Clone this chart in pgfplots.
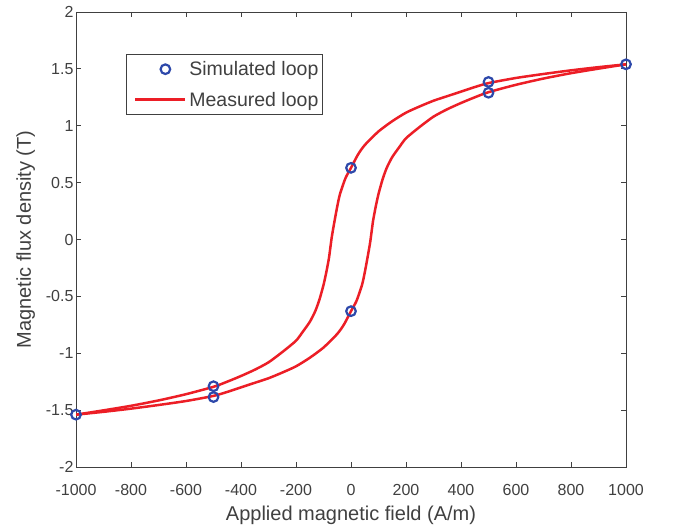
\documentclass[border=0pt]{standalone}
\usepackage{pgfplots}
\pgfplotsset{compat=1.18}
\usepackage{fontspec}
\setmainfont{Liberation Sans}
\definecolor{mred}{RGB}{236,30,38}
\definecolor{mblue}{RGB}{45,72,170}
\definecolor{axgray}{RGB}{64,64,64}
\begin{document}
\begin{tikzpicture}
\useasboundingbox (-76pt,-59pt) rectangle (601pt,467pt);
\begin{axis}[
  scale only axis,
  width=550pt, height=455pt,
  xmin=-1000, xmax=1000, ymin=-2, ymax=2,
  xtick={-1000,-800,-600,-400,-200,0,200,400,600,800,1000},
  xticklabels={-1000,-800,-600,-400,-200,0,200,400,600,800,1000},
  ytick={-2,-1.5,-1,-0.5,0,0.5,1,1.5,2},
  yticklabels={-2,-1.5,-1,-0.5,0,0.5,1,1.5,2},
  tick align=inside,
  major tick length=5pt,
  axis line style={axgray, line width=0.8pt},
  every tick/.style={axgray, line width=0.8pt},
  tick label style={text=axgray, font=\fontsize{16}{19}\selectfont},
  xticklabel style={yshift=-14pt},
  yticklabel style={xshift=1pt},
  label style={text=axgray, font=\fontsize{20}{24}\selectfont},
  xlabel={Applied magnetic field (A/m)},
  ylabel={Magnetic flux density (T)},
  xlabel style={yshift=-3pt},
  ylabel style={yshift=4pt},
  legend cell align=left,
  legend style={at={(rel axis cs:0.0909,0.9077)}, anchor=north west,
    draw=axgray, line width=0.8pt, font=\fontsize{19.5}{23}\selectfont,
    text=axgray, inner xsep=2pt, inner ysep=5pt, row sep=11pt},
]
\addplot[only marks, mark=o, mark size=4.8pt, mblue, line width=2.2pt,
  legend image code/.code={\draw[mblue, line width=2.2pt] (37pt,0pt) circle (4.8pt);\path[draw=none,fill=none] (0pt,0pt) -- (59pt,0pt);}]
  coordinates {(1000,1.54) (500,1.385) (500,1.29) (0,0.63) (0,-0.63) (-500,-1.29) (-500,-1.385) (-1000,-1.54)};
\addlegendentry{Simulated loop}
\addplot[mred, line width=2.5pt, smooth, tension=0.4,
  legend image code/.code={\draw[mred, line width=3pt] (7pt,0pt) -- (57pt,0pt);\path[draw=none,fill=none] (0pt,0pt) -- (59pt,0pt);}]
  coordinates {
  (1000,1.540) (900,1.515) (800,1.487) (700,1.455) (600,1.420) (500,1.375)
  (450,1.340) (400,1.300) (350,1.260) (300,1.220) (250,1.170) (200,1.115)
  (150,1.040) (100,0.950) (50,0.830) (25,0.745) (0,0.630) (-20,0.540)
  (-40,0.400) (-50,0.290) (-60,0.160) (-70,0.020) (-80,-0.160)
  (-90,-0.290) (-100,-0.400) (-115,-0.530) (-130,-0.630) (-150,-0.725)
  (-175,-0.810) (-200,-0.890) (-250,-0.990) (-300,-1.080) (-350,-1.145)
  (-400,-1.200) (-450,-1.250) (-500,-1.295) (-600,-1.360) (-700,-1.415)
  (-800,-1.462) (-900,-1.502) (-1000,-1.540)
  };
\addlegendentry{Measured loop}
\addplot[mred, line width=2.5pt, smooth, tension=0.4, forget plot]
  coordinates {
  (-1000,-1.540) (-900,-1.515) (-800,-1.487) (-700,-1.455) (-600,-1.420) (-500,-1.375)
  (-450,-1.340) (-400,-1.300) (-350,-1.260) (-300,-1.220) (-250,-1.170) (-200,-1.115)
  (-150,-1.040) (-100,-0.950) (-50,-0.830) (-25,-0.745) (0,-0.630) (20,-0.540)
  (40,-0.400) (50,-0.290) (60,-0.160) (70,-0.020) (80,0.160)
  (90,0.290) (100,0.400) (115,0.530) (130,0.630) (150,0.725)
  (175,0.810) (200,0.890) (250,0.990) (300,1.080) (350,1.145)
  (400,1.200) (450,1.250) (500,1.295) (600,1.360) (700,1.415)
  (800,1.462) (900,1.502) (1000,1.540)
  };
\end{axis}
\end{tikzpicture}
\end{document}
